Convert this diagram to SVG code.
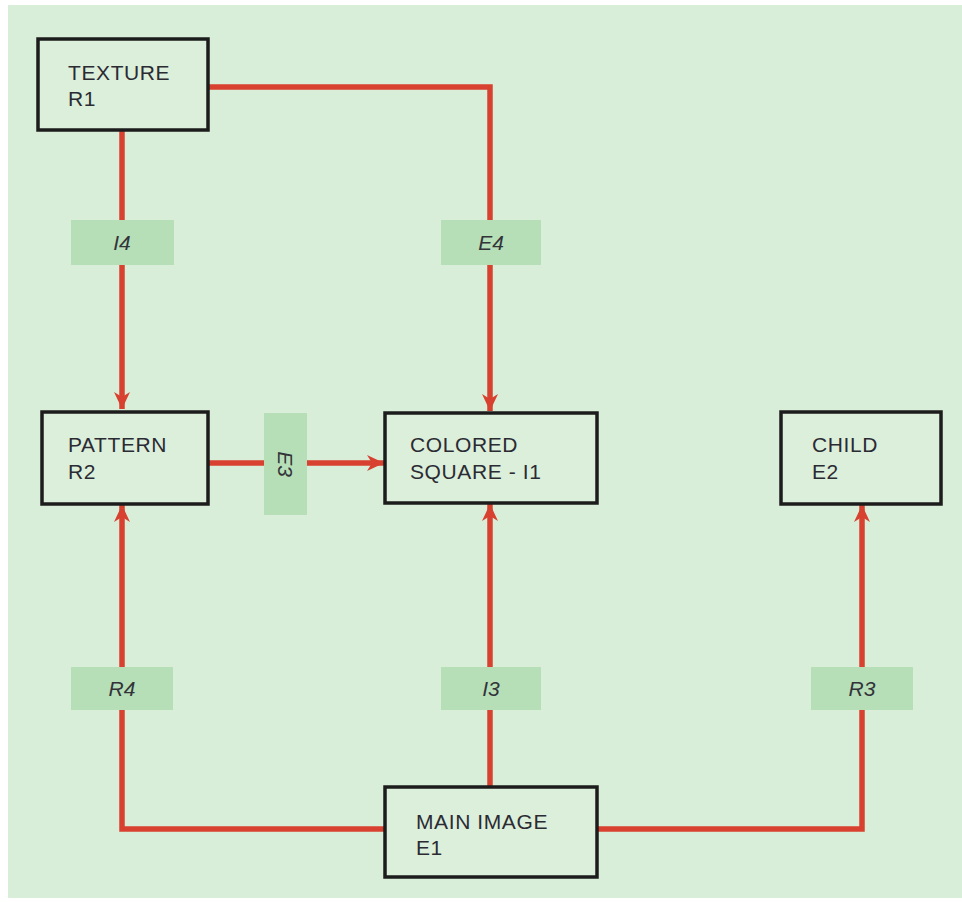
<svg xmlns="http://www.w3.org/2000/svg" width="962" height="902" viewBox="0 0 962 902">
  <style>
    .box { fill: #dcefdb; stroke: #1c1c1c; stroke-width: 3.5; }
    .node-text { font-family: "Liberation Sans", Arial, sans-serif; font-size: 21px; fill: #2b2b33; letter-spacing: 0.6px; }
    .conn { fill: none; stroke: #d8412f; stroke-width: 5.5; stroke-linejoin: miter; }
    .lab { fill: #b6dfb7; }
    .lab-text { font-family: "Liberation Sans", Arial, sans-serif; font-size: 21px; font-style: italic; fill: #33333a; text-anchor: middle; }
  </style>
  <defs>
    <marker id="arrow" markerUnits="userSpaceOnUse" markerWidth="20" markerHeight="20" viewBox="0 0 20 20" refX="17" refY="10" orient="auto">
      <path d="M0,2 L17,10 L0,18 L5,10 Z" fill="#d8412f"/>
    </marker>
  </defs>
  <rect x="0" y="0" width="962" height="902" fill="#ffffff"/>
  <rect x="8" y="5" width="954" height="893" fill="#d9eed8"/>

  <g id="connectors">
    <path class="conn" d="M122,131 V409" marker-end="url(#arrow)"/>
    <path class="conn" d="M208,87 H490 V411" marker-end="url(#arrow)"/>
    <path class="conn" d="M208,463 H384" marker-end="url(#arrow)"/>
    <path class="conn" d="M385,829 H122 V505" marker-end="url(#arrow)"/>
    <path class="conn" d="M490,787 V504" marker-end="url(#arrow)"/>
    <path class="conn" d="M597,829 H862 V505" marker-end="url(#arrow)"/>
  </g>

  <g id="labels">
    <g id="label-I4"><rect class="lab" x="71" y="220" width="103" height="45"/><text class="lab-text" x="122" y="250">I4</text></g>
    <g id="label-E4"><rect class="lab" x="441" y="220" width="100" height="45"/><text class="lab-text" x="491" y="250">E4</text></g>
    <g id="label-E3"><rect class="lab" x="264" y="413" width="43" height="102"/><text class="lab-text" transform="translate(285,464) rotate(90)" x="0" y="7">E3</text></g>
    <g id="label-R4"><rect class="lab" x="71" y="667" width="102" height="43"/><text class="lab-text" x="122" y="696">R4</text></g>
    <g id="label-I3"><rect class="lab" x="441" y="667" width="100" height="43"/><text class="lab-text" x="491" y="696">I3</text></g>
    <g id="label-R3"><rect class="lab" x="811" y="667" width="102" height="43"/><text class="lab-text" x="862" y="696">R3</text></g>
  </g>

  <g id="node-texture">
    <rect class="box" x="38" y="39" width="170" height="91"/>
    <text class="node-text" x="68" y="80">TEXTURE</text>
    <text class="node-text" x="68" y="106">R1</text>
  </g>
  <g id="node-pattern">
    <rect class="box" x="42" y="412" width="166" height="92"/>
    <text class="node-text" x="68" y="452">PATTERN</text>
    <text class="node-text" x="68" y="479">R2</text>
  </g>
  <g id="node-colored-square">
    <rect class="box" x="385" y="413" width="212" height="90"/>
    <text class="node-text" x="410" y="452">COLORED</text>
    <text class="node-text" x="410" y="479">SQUARE - I1</text>
  </g>
  <g id="node-child">
    <rect class="box" x="781" y="412" width="160" height="92"/>
    <text class="node-text" x="812" y="452">CHILD</text>
    <text class="node-text" x="812" y="479">E2</text>
  </g>
  <g id="node-main-image">
    <rect class="box" x="385" y="787" width="212" height="90"/>
    <text class="node-text" x="416" y="829">MAIN IMAGE</text>
    <text class="node-text" x="416" y="855">E1</text>
  </g>
</svg>
